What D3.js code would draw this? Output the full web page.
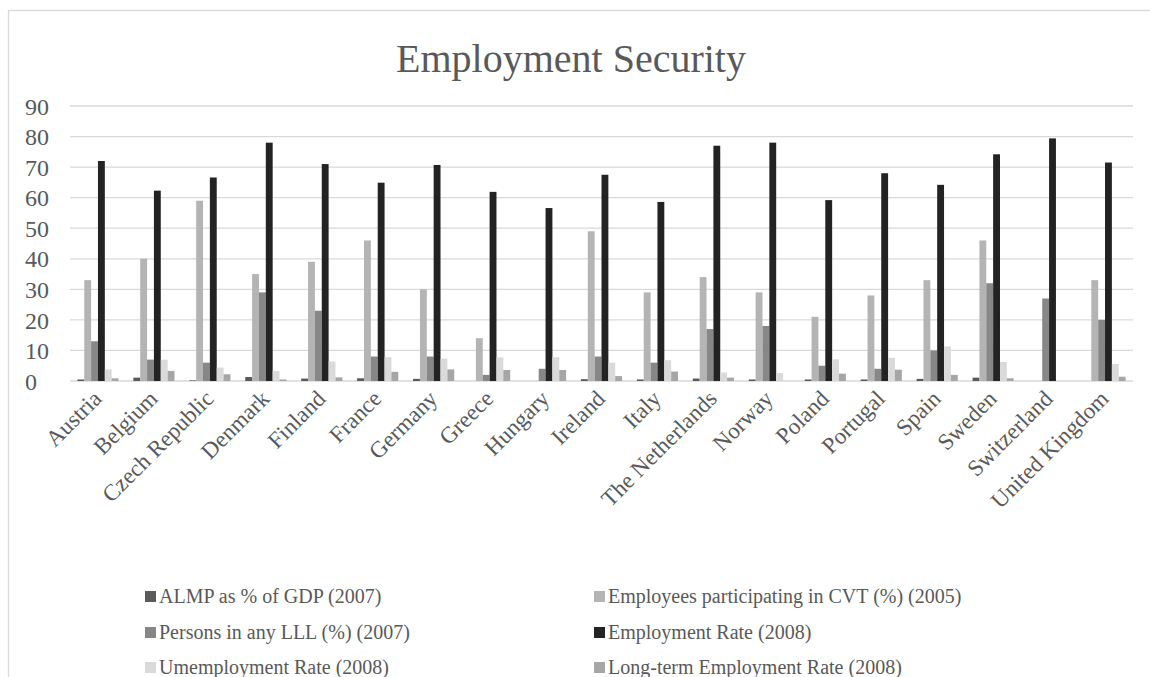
<!DOCTYPE html>
<html>
<head>
<meta charset="utf-8">
<script src="https://cdn.jsdelivr.net/npm/d3@7"></script>
<style>
  html, body { margin: 0; padding: 0; background: #fff; }
  svg text { font-family: "Liberation Serif", "Times New Roman", serif; fill: #595959; }
</style>
</head>
<body>
<svg id="chart" width="1150" height="677"></svg>
<script>
// Countries on the category axis
const countries = ["Austria", "Belgium", "Czech Republic", "Denmark", "Finland", "France",
  "Germany", "Greece", "Hungary", "Ireland", "Italy", "The Netherlands", "Norway",
  "Poland", "Portugal", "Spain", "Sweden", "Switzerland", "United Kingdom"];

// Series names (legend order)
const seriesNames = ["ALMP as % of GDP (2007)", "Employees participating in CVT (%) (2005)",
  "Persons in any LLL (%) (2007)", "Employment Rate (2008)",
  "Umemployment Rate (2008)", "Long-term Employment Rate (2008)"];

// Series values, one per country
const almp     = [0.5, 1.1, 0.2, 1.3, 0.8, 0.9, 0.7, 0, 0, 0.6, 0.5, 0.8, 0.5, 0.5, 0.5, 0.7, 1.1, 0, 0];
const cvt      = [33, 40, 59, 35, 39, 46, 30, 14, 0, 49, 29, 34, 29, 21, 28, 33, 46, 0, 33];
const lll      = [13, 7, 6, 29, 23, 8, 8, 2, 4, 8, 6, 17, 18, 5, 4, 10, 32, 27, 20];
const empRate  = [72, 62.3, 66.6, 78, 71, 64.9, 70.7, 61.9, 56.6, 67.5, 58.6, 77, 78, 59.2, 68, 64.2, 74.2, 79.4, 71.5];
const unemp    = [3.8, 7, 4.4, 3.3, 6.4, 7.8, 7.3, 7.7, 7.8, 6, 6.8, 2.8, 2.6, 7.1, 7.6, 11.3, 6.2, 0, 5.6];
const longTerm = [0.9, 3.3, 2.2, 0.5, 1.2, 3, 3.8, 3.6, 3.6, 1.6, 3.1, 1.1, 0, 2.4, 3.7, 2, 0.9, 0, 1.4];

const yTicks = [0, 10, 20, 30, 40, 50, 60, 70, 80, 90];
const colors = ["#5a5a5a", "#b4b4b4", "#878787", "#232323", "#dadada", "#a6a6a6"];

const seriesValues = [almp, cvt, lll, empRate, unemp, longTerm];
const rows = countries.map((c, i) => ({ country: c, values: seriesValues.map(s => s[i]) }));

const serif = "'Liberation Serif', 'Times New Roman', serif";
const svg = d3.select("#chart");

// chart frame
svg.append("rect")
  .attr("x", 8.5).attr("y", 10.5).attr("width", 1160).attr("height", 700)
  .attr("fill", "none").attr("stroke", "#d9d9d9").attr("stroke-width", 1.3);

// title
svg.append("text")
  .attr("x", 571).attr("y", 72)
  .attr("text-anchor", "middle")
  .style("font-size", "40px")
  .text("Employment Security");

const plot = { left: 70, right: 1133, top: 106, bottom: 381 };

const x0 = d3.scaleBand().domain(countries).range([plot.left, plot.right]).paddingInner(0).paddingOuter(0);
const groupPad = 7.4;
const x1 = d3.scaleBand().domain(d3.range(seriesNames.length))
  .range([groupPad, x0.bandwidth() - groupPad]);
const y = d3.scaleLinear().domain([0, 90]).range([plot.bottom, plot.top]);

// horizontal gridlines
svg.append("g")
  .selectAll("line")
  .data(yTicks)
  .join("line")
  .attr("x1", plot.left).attr("x2", plot.right)
  .attr("y1", d => y(d)).attr("y2", d => y(d))
  .attr("stroke", "#d9d9d9").attr("stroke-width", 1.3);

// y axis labels (left-aligned in the margin)
const yAxis = d3.axisLeft(y).tickValues(yTicks).tickSize(0).tickPadding(0);
svg.append("g")
  .attr("transform", `translate(25,0)`)
  .call(yAxis)
  .attr("font-family", serif)
  .attr("font-size", 24)
  .attr("text-anchor", "start")
  .call(g => g.select(".domain").remove())
  .call(g => g.selectAll("text")
    .style("font-family", serif)
    .style("font-size", "24px")
    .attr("text-anchor", "start")
    .attr("x", 0)
    .attr("fill", "#595959")
    .attr("dy", "0.34em"));

// bars
svg.append("g")
  .selectAll("g")
  .data(rows)
  .join("g")
  .attr("transform", d => `translate(${x0(d.country)},0)`)
  .selectAll("rect")
  .data(d => d.values.map((v, k) => ({ k, v })))
  .join("rect")
  .attr("x", d => x1(d.k))
  .attr("width", x1.bandwidth())
  .attr("y", d => y(d.v))
  .attr("height", d => y(0) - y(d.v))
  .attr("fill", d => colors[d.k]);

// category labels, rotated
const xAxis = d3.axisBottom(x0).tickSize(0).tickPadding(0);
svg.append("g")
  .attr("transform", `translate(0,${plot.bottom})`)
  .call(xAxis)
  .attr("font-family", serif)
  .attr("font-size", 23)
  .call(g => g.select(".domain").remove())
  .call(g => g.selectAll("text")
    .style("font-family", serif)
    .style("font-size", "23px")
    .attr("fill", "#595959")
    .attr("text-anchor", "end")
    .attr("transform", "translate(5,19) rotate(-45)")
    .attr("dy", 0)
    .attr("y", 0));

// legend
const legendPos = [
  { x: 145, y: 603 }, { x: 594, y: 603 },
  { x: 145, y: 639 }, { x: 594, y: 639 },
  { x: 145, y: 674 }, { x: 594, y: 674 }
];
const legend = svg.append("g")
  .selectAll("g")
  .data(seriesNames)
  .join("g")
  .attr("transform", (d, i) => `translate(${legendPos[i].x},${legendPos[i].y})`);
legend.append("rect")
  .attr("x", 0).attr("y", -12).attr("width", 11).attr("height", 11)
  .attr("fill", (d, i) => colors[i]);
legend.append("text")
  .attr("x", 14).attr("y", 0)
  .style("font-size", "20px")
  .text(d => d);
</script>
</body>
</html>
